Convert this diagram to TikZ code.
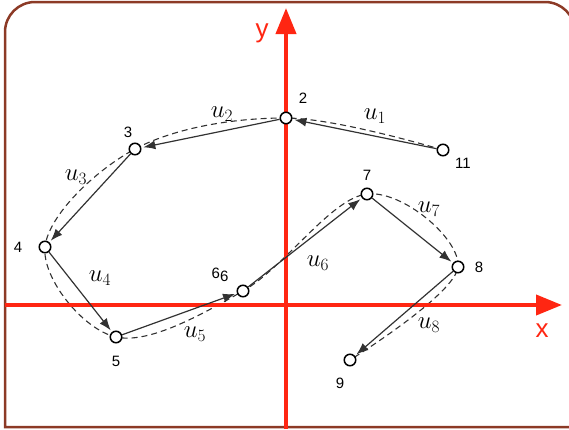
\documentclass[tikz,border=0pt]{standalone}
\usepackage{fontspec}
\setmainfont{Liberation Sans}
\usetikzlibrary{arrows.meta,backgrounds}
\definecolor{framebrown}{RGB}{140,58,38}
\definecolor{axisred}{RGB}{255,38,18}
\definecolor{linegray}{RGB}{50,50,50}

\begin{document}
\begin{tikzpicture}[x=1pt, y=-1pt,
    pt/.style={circle, draw=black, line width=1.5pt, fill=white, minimum size=11.5pt, inner sep=0pt},
    num/.style={font=\fontsize{15}{15}\selectfont},
    ulab/.style={font=\fontsize{25}{25}\selectfont},
    axlab/.style={text=axisred, font=\fontsize{26}{26}\selectfont},
    axis/.style={line width=4pt, axisred, -{Triangle[length=26pt, width=20pt]}},
    move/.style={-{Latex[length=12pt, width=9pt]}, line width=1.2pt, linegray, shorten >=2pt},
    trail/.style={line width=1.1pt, linegray, dash pattern=on 6pt off 4pt}]
    \useasboundingbox (0,0) rectangle (569,429);
    \clip (0,0) rectangle (569,429);

    % Frame
    \draw[framebrown, line width=2.5pt] (5,427) -- (5,32) arc[start angle=180, end angle=270, radius=30]
        -- (545,2) arc[start angle=270, end angle=360, radius=30] -- (575,427) -- cycle;

    % Axes
    \draw[axis] (286,429) -- (286,8);
    \draw[axis] (5,305) -- (562,305);
    \node (ylab) [axlab] at (262,33) {y};
    \node (xlab) [axlab] at (542,331) {x};

    % Points
    \node (p11) [pt] at (443,150) {};
    \node (p2) [pt] at (286,118) {};
    \node (p3) [pt] at (135,149) {};
    \node (p4) [pt] at (45,247) {};
    \node (p5) [pt] at (116,337) {};
    \node (p6) [pt] at (243,291) {};
    \node (p7) [pt] at (367,194) {};
    \node (p8) [pt] at (458,267) {};
    \node (p9) [pt] at (350,360) {};

    % Point numbers
    \node (n11) [num] at (463,163) {11};
    \node (n2) [num] at (303,98) {2};
    \node (n3) [num] at (128,132) {3};
    \node (n4) [num] at (18,247) {4};
    \node (n5) [num] at (116,361) {5};
    \node (n6) [num] at (220,275) {6\raisebox{-3pt}{6}};
    \node (n7) [num] at (367,175) {7};
    \node (n8) [num] at (479,267) {8};
    \node (n9) [num] at (340,383) {9};

    % Moves
    \draw[move] (p11) -- (p2);
    \draw[move] (p2) -- (p3);
    \draw[move] (p3) -- (p4);
    \draw[move] (p4) -- (p5);
    \draw[move] (p5) -- (p6);
    \draw[move] (p6) -- (p7);
    \draw[move] (p7) -- (p8);
    \draw[move] (p8) -- (p9);

    % Dashed trail
    \begin{scope}[on background layer]
        \draw[trail] plot[smooth, tension=0.6] coordinates {(p11.center) (p2.center) (p3.center) (p4.center)
            (p5.center) (p6.center) (p7.center) (p8.center) (p9.center)};
    \end{scope}

    % Labels
    \node (u1) [ulab] at (375,116) {$u_1$};
    \node (u2) [ulab] at (222,114) {$u_2$};
    \node (u3) [ulab] at (76,177) {$u_3$};
    \node (u4) [ulab] at (100,278) {$u_4$};
    \node (u5) [ulab] at (195,334) {$u_5$};
    \node (u6) [ulab] at (318,263) {$u_6$};
    \node (u7) [ulab] at (429,209) {$u_7$};
    \node (u8) [ulab] at (429,325) {$u_8$};
\end{tikzpicture}
\end{document}
